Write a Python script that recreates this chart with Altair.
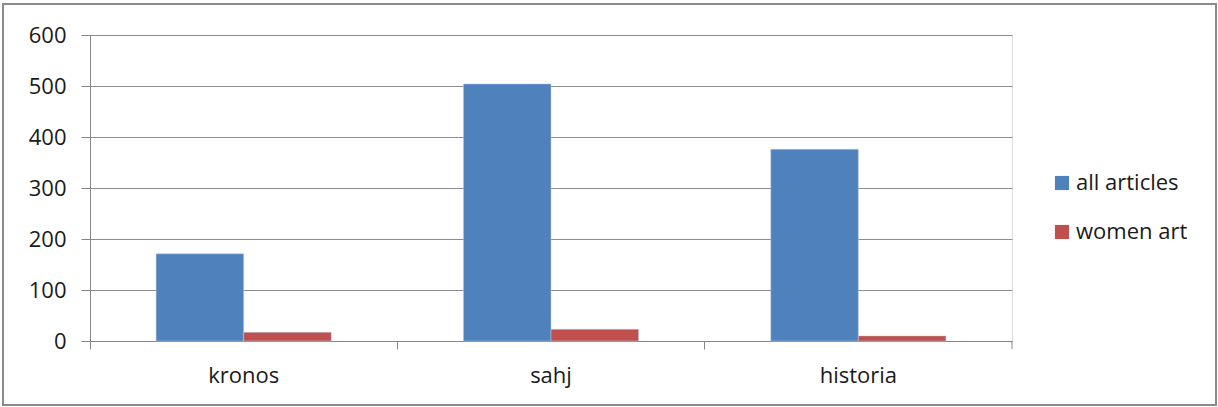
import altair as alt
import pandas as pd

categories = ["kronos", "sahj", "historia"]
series_names = ["all articles", "women art"]
all_articles = [171, 504, 376]
women_art = [17, 23, 10]
colors = ["#4F81BD", "#C0504D"]

rows = []
for i, c in enumerate(categories):
    rows.append({"journal": c, "series": series_names[0], "value": all_articles[i]})
    rows.append({"journal": c, "series": series_names[1], "value": women_art[i]})
df = pd.DataFrame(rows)

W, H = 922, 306
FONT = "Open Sans"
FS = 22

bars = alt.Chart(df).mark_bar(stroke="#b9cde5", strokeWidth=0.5).encode(
    x=alt.X("journal:N", sort=categories, title=None,
            scale=alt.Scale(paddingInner=0, paddingOuter=0),
            axis=alt.Axis(labelAngle=0, bandPosition=0, tickSize=8, labelPadding=16,
                          domainColor="#868686", tickColor="#868686", grid=False,
                          labelFont=FONT, labelFontSize=FS, labelColor="#1a1a1a")),
    xOffset=alt.XOffset("series:N", sort=series_names,
                        scale=alt.Scale(paddingInner=0, paddingOuter=0.755)),
    y=alt.Y("value:Q", title=None,
            scale=alt.Scale(domain=[0, 600], nice=False),
            axis=alt.Axis(values=[0, 100, 200, 300, 400, 500, 600], tickSize=9,
                          labelPadding=15, domainColor="#868686", tickColor="#868686",
                          gridColor="#8c8c8c", labelFont=FONT, labelFontSize=FS,
                          labelColor="#1a1a1a")),
    color=alt.Color("series:N", sort=series_names,
                    scale=alt.Scale(domain=series_names, range=colors),
                    legend=alt.Legend(title=None, orient="none", legendX=961, legendY=137,
                                      symbolType="square", symbolSize=200,
                                      symbolStrokeWidth=0, labelFont=FONT,
                                      labelFontSize=FS, labelColor="#1a1a1a",
                                      labelOffset=3, rowPadding=27, padding=0)),
)

end_tick = alt.Chart(alt.Data(values=[{"k": 1}])).mark_rule(color="#868686").encode(
    x=alt.value(W), y=alt.value(H), y2=alt.value(H + 8),
)

border = alt.Chart(alt.Data(values=[{"k": 1}])).mark_rect(
    fill=None, stroke="#8a8a8a", strokeWidth=2
).encode(
    x=alt.value(-87), x2=alt.value(W + 204),
    y=alt.value(-31), y2=alt.value(H + 64),
)

chart = alt.layer(bars, end_tick, border).properties(
    width=W, height=H,
    autosize=alt.AutoSizeParams(type="none"),
    padding={"left": 90, "top": 35, "right": 206, "bottom": 66},
).configure_view(stroke=None).configure(background="white")

chart.save("out.html", embed_options={"renderer": "svg", "actions": False})
